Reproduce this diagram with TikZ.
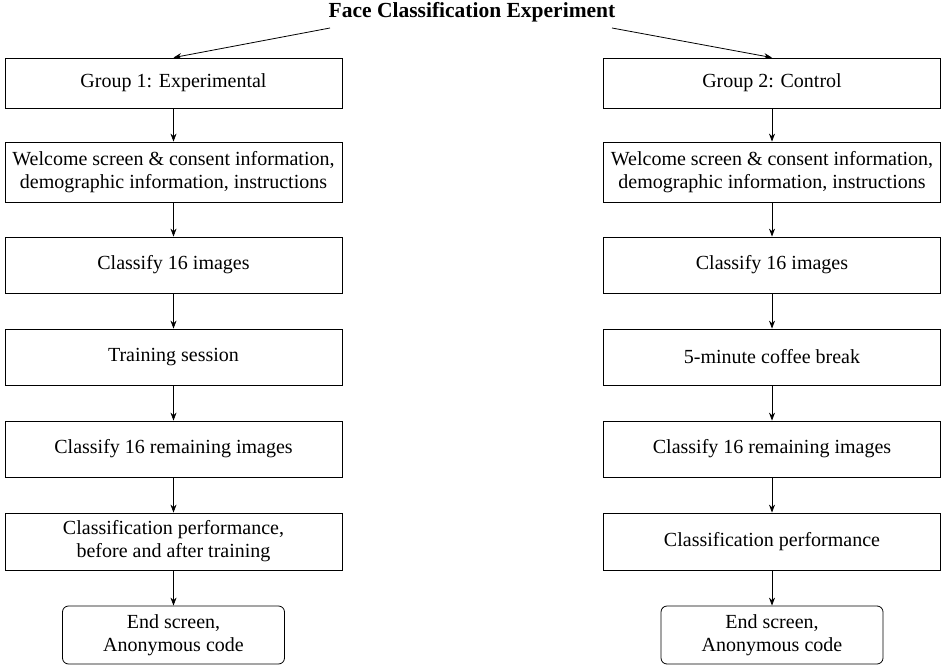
\documentclass[tikz,border=0pt]{standalone}
\usepackage{fontspec}
\setmainfont{Liberation Serif}
\usetikzlibrary{arrows.meta}
\begin{document}
\begin{tikzpicture}[x=1pt,y=-1pt,
  box/.style={draw,line width=0.8pt,minimum width=337pt,align=center,font=\fontsize{20}{23}\selectfont,inner sep=0pt},
  endbox/.style={box,rounded corners=6pt,minimum width=222pt,minimum height=58pt},
  arr/.style={-{Stealth[length=8pt,width=6pt]},line width=0.8pt}]
\useasboundingbox (0,0) rectangle (944,668);
\node[font=\bfseries\fontsize{21.5}{24}\selectfont] (t) at (472,12) {Face Classification Experiment};
\node[box,minimum height=50pt] (a1) at (173.5,83) {Group 1: Experimental};
\node[box,minimum height=60pt] (a2) at (173.5,172) {Welcome screen \& consent information,\\demographic information, instructions};
\node[box,minimum height=56pt] (a3) at (173.5,265) {Classify 16 images};
\node[box,minimum height=56pt] (a4) at (173.5,357) {Training session};
\node[box,minimum height=56pt] (a5) at (173.5,449) {Classify 16 remaining images};
\node[box,minimum height=57pt] (a6) at (173.5,541.5) {Classification performance,\\before and after training};
\node[endbox] (a7) at (173.5,635) {End screen,\\Anonymous code};
\node[box,minimum height=50pt] (b1) at (772,83) {Group 2: Control};
\node[box,minimum height=60pt] (b2) at (772,172) {Welcome screen \& consent information,\\demographic information, instructions};
\node[box,minimum height=56pt] (b3) at (772,265) {Classify 16 images};
\node[box,minimum height=56pt] (b4) at (772,357) {5-minute coffee break};
\node[box,minimum height=56pt] (b5) at (772,449) {Classify 16 remaining images};
\node[box,minimum height=57pt] (b6) at (772,541.5) {Classification performance};
\node[endbox] (b7) at (772,635) {End screen,\\Anonymous code};
\coordinate (tl) at (330,28);
\coordinate (tr) at (612,28);
\draw[arr] (tl) -- (a1.north);
\draw[arr] (tr) -- (b1.north);
\foreach \g in {a,b}{
  \draw[arr] (\g1) -- (\g2);
  \draw[arr] (\g2) -- (\g3);
  \draw[arr] (\g3) -- (\g4);
  \draw[arr] (\g4) -- (\g5);
  \draw[arr] (\g5) -- (\g6);
  \draw[arr] (\g6) -- (\g7);
}
\end{tikzpicture}
\end{document}
